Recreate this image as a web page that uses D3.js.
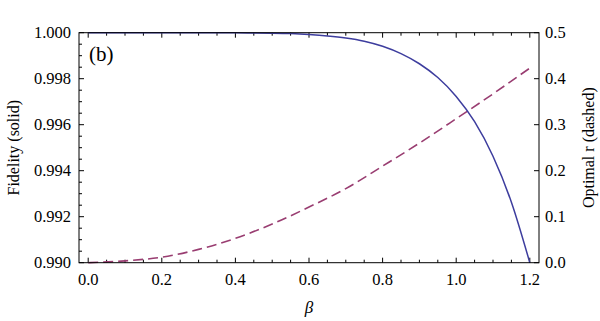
<!DOCTYPE html>
<html>
<head>
<meta charset="utf-8">
<script src="https://cdn.jsdelivr.net/npm/d3@7"></script>
<style>
  body { margin: 0; background: #fff; }
  text { font-family: "Liberation Serif", "DejaVu Serif", serif; fill: #000; }
</style>
</head>
<body>
<div id="chart"></div>
<script>
const betaF = [0, 0.1, 0.2, 0.3, 0.4, 0.5, 0.55, 0.6, 0.65, 0.7, 0.75, 0.8, 0.85, 0.9, 0.95, 1.0, 1.05, 1.1, 1.15, 1.2];
const fidelity = [1, 1, 1, 0.999999, 0.999995, 0.99998, 0.99996, 0.99992, 0.99986, 0.99977, 0.99963, 0.99941, 0.99909, 0.99865, 0.99805, 0.99723, 0.99613, 0.99463, 0.99263, 0.99000];

const betaR = [0, 0.1, 0.2, 0.3, 0.4, 0.5, 0.6, 0.7, 0.8, 0.9, 1.0, 1.1, 1.2];
const optimalR = [0, 0.004, 0.012, 0.029, 0.053, 0.084, 0.121, 0.161, 0.21, 0.26, 0.313, 0.367, 0.423];

const xTicks = [0, 0.2, 0.4, 0.6, 0.8, 1.0, 1.2];
const leftTicks = [0.990, 0.992, 0.994, 0.996, 0.998, 1.000];
const rightTicks = [0, 0.1, 0.2, 0.3, 0.4, 0.5];

const width = 600;
const height = 321;
const marginTop = 32.7;
const marginBottom = 58.3;
const marginLeft = 79;
const marginRight = 61;

const x = d3.scaleLinear([-0.025, 1.225], [marginLeft, width - marginRight]);
const yL = d3.scaleLinear([0.99, 1.0], [height - marginBottom, marginTop]);
const yR = d3.scaleLinear([0, 0.5], [height - marginBottom, marginTop]);

const svg = d3.select("#chart").append("svg")
    .attr("width", width)
    .attr("height", height)
    .attr("viewBox", [0, 0, width, height]);

// minor ticks
const xMinor = d3.range(0, 1.2001, 0.05).filter(v => !xTicks.some(t => Math.abs(t - v) < 1e-6));
const yMinor = d3.range(0.9905, 1.0, 0.0005).filter(v => !leftTicks.some(t => Math.abs(t - v) < 1e-7));

const tickG = svg.append("g").attr("stroke", "#000").attr("stroke-width", 1);
const bottomY = yL(0.99), topY = yL(1.0);
const leftX = x.range()[0], rightX = x.range()[1];

xTicks.forEach(t => {
  tickG.append("line").attr("x1", x(t)).attr("x2", x(t)).attr("y1", bottomY).attr("y2", bottomY - 5);
  tickG.append("line").attr("x1", x(t)).attr("x2", x(t)).attr("y1", topY).attr("y2", topY + 5);
});
xMinor.forEach(t => {
  tickG.append("line").attr("x1", x(t)).attr("x2", x(t)).attr("y1", bottomY).attr("y2", bottomY - 3);
  tickG.append("line").attr("x1", x(t)).attr("x2", x(t)).attr("y1", topY).attr("y2", topY + 3);
});
leftTicks.forEach(t => {
  tickG.append("line").attr("x1", leftX).attr("x2", leftX + 5).attr("y1", yL(t)).attr("y2", yL(t));
});
yMinor.forEach(t => {
  tickG.append("line").attr("x1", leftX).attr("x2", leftX + 3).attr("y1", yL(t)).attr("y2", yL(t));
});
rightTicks.forEach(t => {
  tickG.append("line").attr("x1", rightX).attr("x2", rightX - 5).attr("y1", yR(t)).attr("y2", yR(t));
});

// curves
const lineF = d3.line()
    .x((d, i) => x(betaF[i]))
    .y(d => yL(d))
    .curve(d3.curveMonotoneX);

const lineR = d3.line()
    .x((d, i) => x(betaR[i]))
    .y(d => yR(d))
    .curve(d3.curveMonotoneX);

svg.append("path")
    .attr("fill", "none")
    .attr("stroke", "#993d71")
    .attr("stroke-width", 1.6)
    .attr("stroke-dasharray", "10,5")
    .attr("d", lineR(optimalR));

svg.append("path")
    .attr("fill", "none")
    .attr("stroke", "#3d3d9e")
    .attr("stroke-width", 1.5)
    .attr("d", lineF(fidelity));

// frame
svg.append("rect")
    .attr("x", leftX)
    .attr("y", topY)
    .attr("width", rightX - leftX)
    .attr("height", bottomY - topY)
    .attr("fill", "none")
    .attr("stroke", "#000")
    .attr("stroke-width", 1);

// tick labels
svg.append("g").selectAll("text").data(xTicks).join("text")
    .attr("x", d => x(d))
    .attr("y", bottomY + 22)
    .attr("text-anchor", "middle")
    .attr("font-size", 16.5)
    .text(d => d3.format(".1f")(d));

svg.append("g").selectAll("text").data(leftTicks).join("text")
    .attr("x", leftX - 8)
    .attr("y", d => yL(d))
    .attr("dy", "0.35em")
    .attr("text-anchor", "end")
    .attr("font-size", 16.5)
    .text(d => d3.format(".3f")(d));

svg.append("g").selectAll("text").data(rightTicks).join("text")
    .attr("x", rightX + 6)
    .attr("y", d => yR(d))
    .attr("dy", "0.35em")
    .attr("font-size", 16.5)
    .text(d => d3.format(".1f")(d));

// axis titles
svg.append("text")
    .attr("x", (leftX + rightX) / 2)
    .attr("y", 313)
    .attr("text-anchor", "middle")
    .attr("font-size", 17)
    .attr("font-style", "italic")
    .text("β");

svg.append("text")
    .attr("transform", `translate(19,${(topY + bottomY) / 2}) rotate(-90)`)
    .attr("text-anchor", "middle")
    .attr("font-size", 16)
    .text("Fidelity (solid)");

svg.append("text")
    .attr("transform", `translate(594,${(topY + bottomY) / 2}) rotate(-90)`)
    .attr("text-anchor", "middle")
    .attr("font-size", 16)
    .text("Optimal r (dashed)");

svg.append("text")
    .attr("x", leftX + 10)
    .attr("y", topY + 28)
    .attr("font-size", 21)
    .text("(b)");
</script>
</body>
</html>
